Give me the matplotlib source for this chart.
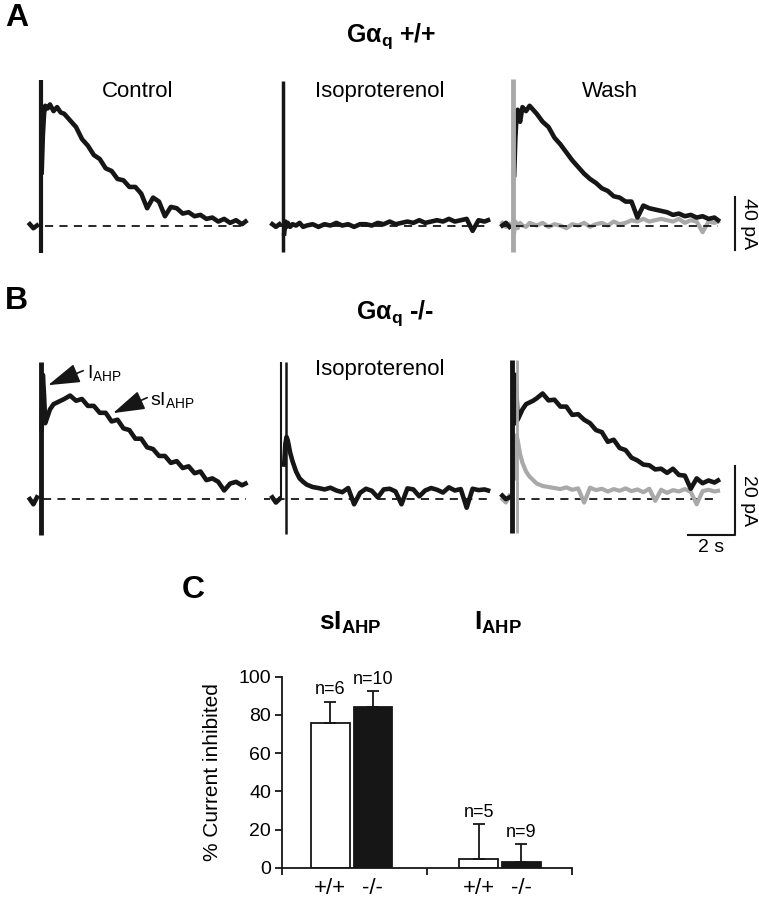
import numpy as np
import matplotlib
matplotlib.use("Agg")
import matplotlib.pyplot as plt

plt.rcParams["font.family"] = ["Liberation Sans", "DejaVu Sans"]
plt.rcParams["mathtext.fontset"] = "custom"
plt.rcParams["mathtext.rm"] = "Liberation Sans"
plt.rcParams["mathtext.it"] = "Liberation Sans:italic"
plt.rcParams["mathtext.bf"] = "Liberation Sans:bold"
plt.rcParams["mathtext.default"] = "regular"

# ---- traces (pA), sampled times in s relative to the stimulus ----
T_PRE = [-0.45, -0.3, -0.15]
T_POST = [0.05, 0.1, 0.15, 0.2, 0.3, 0.4, 0.55, 0.7, 0.85] + list(np.arange(1.0, 8.55, 0.25)) + [8.65]

# A: Galpha_q +/+
a_ctrl_pre = [1, -2, 0]
a_ctrl = [40, 68, 84, 90, 88, 91, 86, 89, 85,
          84, 79, 74, 65, 60, 53, 50, 43, 41, 35, 34, 29, 29, 24, 13, 21,
          18, 7, 14, 13, 9, 10, 7, 8, 5, 6, 3, 5, 2, 4, 1, 3]
a_iso_pre = [1, -1, 1]
a_iso = [-6, 3, -1, 2, -1, 1, 0, 2, -1,
         0, 1, -1, 1, 0, 2, 0, 1, -1, 1, 1, 0, 2, 1, 3, 1,
         2, 3, 2, 4, 2, 3, 4, 3, 5, 3, 4, 5, -4, 4, 3, 4]
a_wash_pre = [0, 2, -1]
a_wash = [38, 66, 82, 87, 78, 89, 86, 90, 87,
          84, 78, 74, 66, 61, 55, 49, 44, 39, 35, 32, 28, 26, 22, 21, 18,
          18, 6, 15, 13, 12, 11, 10, 8, 9, 7, 8, 6, 7, 5, 6, 4]
a_wash_iso_pre = [2, -1, 1]
a_wash_iso = [-5, 3, 1, -2, 2, 0, -1, 2, 1,
              0, 2, -1, 1, 0, -2, 1, 0, 2, -1, 1, 2, 0, 3, 1, 2,
              4, 3, 5, 3, 4, 5, 4, 3, 5, 2, 4, 3, -5, 3, 2, 3]

# B: Galpha_q -/-
b_ctrl_pre = [0, -1.5, 0.5]
b_ctrl = [20, 36, 30, 22, 24, 26, 27.5, 28, 28.5,
          29, 30, 28.5, 29, 27, 27, 25, 25, 22.5, 23, 20.5, 20, 17.5, 17.5, 15,
          14.5, 12.5, 12.5, 10.5, 11, 9, 9.5, 7.5, 8, 5.5, 6, 5, 2.5, 4.5, 5, 4, 4.5]
b_iso_pre = [0.5, -1, 0]
b_iso = [10, 16, 18, 17, 13.5, 11, 8, 6, 5,
         4.2, 3.5, 3.2, 2.8, 3.3, 2.5, 2.0, 3.2, -1.5, 1.8, 3.0, 2.4, 0.5, 2.8, 3.0,
         2.2, -1.5, 3.1, 2.8, 0.8, 2.5, 3.2, 2.7, 1.9, 3.4, 2.5, 2.9, -2.5, 3.0, 2.6, 2.8, 2.5]
b_wash_pre = [1, 0, 0.5]
b_wash = [22, 36, 30, 23, 24.5, 26, 27.5, 28, 28.5,
          29.2, 30.6, 28.6, 28.8, 26.8, 26.8, 24.4, 24.6, 23.0, 22.0, 20.0, 19.4, 16.6,
          17.2, 14.8, 14.2, 12.0, 11.2, 10.0, 9.8, 8.6, 8.8, 7.6, 8.8, 7.0, 6.8, 3.0,
          6.0, 4.6, 5.4, 4.8, 5.4]
b_wash_iso_pre = [0, -1, 1]
b_wash_iso = [6, 14, 18.5, 17, 13, 10.5, 8, 6.5, 5.5,
              4.5, 3.8, 3.5, 3.2, 2.9, 3.4, 2.7, 3.1, -1.0, 3.3, 2.6, 3.0, 2.2, 2.9, 2.4,
              3.1, 2.3, 2.8, 2.0, 3.0, -0.5, 2.7, 1.8, 2.6, 2.2, 2.9, 2.1, -1.5, 2.3, 2.7, 2.2, 2.4]

# stimulus artefacts (top, bottom) in pA
a_stim = [(109.5, -20.7), (109.0, -20.0), (110.0, -20.0)]
b_stim = [(39.7, -10.4), (39.7, -10.0), (40.3, -9.9)]

# baseline spans (s)
a_base = [(0.2, 8.6), (-0.4, 8.6), (-0.5, 8.65)]
b_base = [(0.1, 8.65), (-0.9, 8.6), (0.15, 8.65)]

# ---- panel C ----
genotypes = ["+/+", "-/-", "+/+", "-/-"]
inhibition = [76, 84.3, 4.4, 3.1]
sem = [11, 8, 18.3, 9.2]
n_cells = ["n=6", "n=10", "n=5", "n=9"]

W, H = 759, 899
fig = plt.figure(figsize=(W / 100, H / 100), dpi=100)

BLACK = "#161616"
GRAY = "#a9a9a9"


def px_axes(left, top, width, height):
    return fig.add_axes([left / W, 1 - (top + height) / H, width / W, height / H])


def fig_text(x, y, s, **kw):
    fig.text(x / W, 1 - y / H, s, **kw)


PX_PER_S = 23.7
XLIM = (-0.8, 9.8)


def trace_axes(stim_px, top, height, ylim):
    left = stim_px + XLIM[0] * PX_PER_S
    width = (XLIM[1] - XLIM[0]) * PX_PER_S
    ax = px_axes(left, top, width, height)
    ax.set_xlim(*XLIM)
    ax.set_ylim(*ylim)
    ax.axis("off")
    return ax


def draw_trace(ax, pre, post, color, lw=3.3, z=3):
    ax.plot(T_PRE, pre, color=color, lw=lw, zorder=z, solid_joinstyle="round")
    ax.plot(T_POST, post, color=color, lw=lw, zorder=z, solid_joinstyle="round")


def baseline(ax, span, z=2.5):
    ax.plot(span, [0, 0], color=BLACK, lw=1.3, ls=(0, (4.5, 3.5)), zorder=z)


COLS = [40.5, 283, 513]
ROW_A = (70, 190, (-25.9, 116.9))
ROW_B = (350, 195, (-13.3, 43.2))

axA = [trace_axes(c, *ROW_A) for c in COLS]
axB = [trace_axes(c, *ROW_B) for c in COLS]

# --- row A ---
draw_trace(axA[0], a_ctrl_pre, a_ctrl, BLACK)
draw_trace(axA[1], a_iso_pre, a_iso, BLACK)
draw_trace(axA[2], a_wash_iso_pre, a_wash_iso, GRAY, lw=3.0, z=2)
draw_trace(axA[2], a_wash_pre, a_wash, BLACK)
for ax, span in zip(axA, a_base):
    baseline(ax, span)
axA[0].vlines(0, a_stim[0][1], a_stim[0][0], color=BLACK, lw=3, zorder=4)
axA[1].vlines(0, a_stim[1][1], a_stim[1][0], color=BLACK, lw=2.5, zorder=4)
axA[2].vlines(0, a_stim[2][1], a_stim[2][0], color=GRAY, lw=3.5, zorder=4)

# --- row B ---
draw_trace(axB[0], b_ctrl_pre, b_ctrl, BLACK)
draw_trace(axB[1], b_iso_pre, b_iso, BLACK)
draw_trace(axB[2], b_wash_iso_pre, b_wash_iso, GRAY, lw=3.0, z=3)
draw_trace(axB[2], b_wash_pre, b_wash, BLACK, z=3.5)
for ax, span in zip(axB, b_base):
    baseline(ax, span, z=2)
axB[0].vlines(0, b_stim[0][1], b_stim[0][0], color=BLACK, lw=3.5, zorder=4)
axB[1].vlines(-0.1, 0, b_stim[1][0], color=BLACK, lw=1.5, zorder=4)
axB[1].vlines(0.12, b_stim[1][1], b_stim[1][0], color=BLACK, lw=1.8, zorder=4)
axB[2].vlines(0.17, b_stim[2][1], b_stim[2][0], color=GRAY, lw=2, zorder=4)
axB[2].vlines(-0.05, b_stim[2][1], b_stim[2][0], color=BLACK, lw=3.5, zorder=4)

# condition labels
for ax, lab in zip(axA, ["Control", "Isoproterenol", "Wash"]):
    ax.text(4.1, 101, lab, ha="center", va="center", fontsize=16)
axB[1].text(4.1, 37.5, "Isoproterenol", ha="center", va="center", fontsize=16)

# scale bars
axA[2].plot([9.37, 9.37], [-18.4, 21.6], color=BLACK, lw=1.5, clip_on=False)
axA[2].text(9.95, 1.6, "40 pA", rotation=270, ha="center", va="center", fontsize=14)
axB[2].plot([7.37, 9.37, 9.37], [-10.4, -10.4, 9.6], color=BLACK, lw=1.5, clip_on=False)
axB[2].text(9.95, -0.5, "20 pA", rotation=270, ha="center", va="center", fontsize=14)
axB[2].text(8.37, -13.9, "2 s", ha="center", va="center", fontsize=14, clip_on=False)

# arrows
arrow = dict(arrowstyle="-|>,head_length=1.8,head_width=0.55", color=BLACK, lw=1.2,
             mutation_scale=11, shrinkA=0, shrinkB=0)
axB[0].annotate("", xy=(0.32, 33), xytext=(1.8, 37.2), arrowprops=arrow)
axB[0].text(1.96, 35.1, "I$_{AHP}$", fontsize=14, va="baseline", ha="left")
axB[0].annotate("", xy=(3.06, 24.9), xytext=(4.5, 29.4), arrowprops=arrow)
axB[0].text(4.62, 27.2, "sI$_{AHP}$", fontsize=14, va="baseline", ha="left")

# panel letters and titles
fig_text(17, 18, "A", fontsize=23, fontweight="bold", ha="center", va="center")
fig_text(16, 301, "B", fontsize=23, fontweight="bold", ha="center", va="center")
fig_text(193, 590, "C", fontsize=23, fontweight="bold", ha="center", va="center")
fig_text(391, 36, r"G$\mathbf{\alpha_q}$ +/+", fontsize=18, fontweight="bold",
         ha="center", va="center")
fig_text(395, 313, r"G$\mathbf{\alpha_q}$ -/-", fontsize=18, fontweight="bold",
         ha="center", va="center")

# --- panel C bar chart ---
axC = px_axes(282, 676.7, 290, 191)
pos = [1.0, 1.88, 4.07, 4.95]
face = ["white", BLACK, "white", BLACK]
axC.bar(pos, inhibition, width=0.8, color=face, edgecolor=BLACK, linewidth=1.3, zorder=2)
axC.errorbar(pos, inhibition, yerr=[[0] * 4, sem], fmt="none", ecolor=BLACK,
             elinewidth=1.3, capsize=4, capthick=1.3, zorder=3)
for x, v, e, n in zip(pos, inhibition, sem, n_cells):
    axC.text(x, v + e + 1.8, n, ha="center", va="bottom", fontsize=13)
for x, g in zip(pos, genotypes):
    axC.text(x, -0.108, g, transform=axC.get_xaxis_transform(), ha="center",
             va="center", fontsize=16)
axC.set_xlim(0, 6)
axC.set_ylim(0, 100)
axC.set_xticks([0, 3, 6])
axC.set_xticklabels([])
axC.set_yticks([0, 20, 40, 60, 80, 100])
axC.tick_params(length=5, width=1.3, labelsize=14, pad=3, color=BLACK)
for s in ["top", "right"]:
    axC.spines[s].set_visible(False)
for s in ["left", "bottom"]:
    axC.spines[s].set_linewidth(1.3)
    axC.spines[s].set_color(BLACK)
fig_text(213, 772, "% Current inhibited", rotation=90, ha="center", va="center", fontsize=15)
fig_text(350, 623, r"$\mathbf{sI_{AHP}}$", fontsize=19, ha="center", va="center")
fig_text(498, 623, r"$\mathbf{I_{AHP}}$", fontsize=19, ha="center", va="center")

fig.savefig("out.png", dpi=100)
